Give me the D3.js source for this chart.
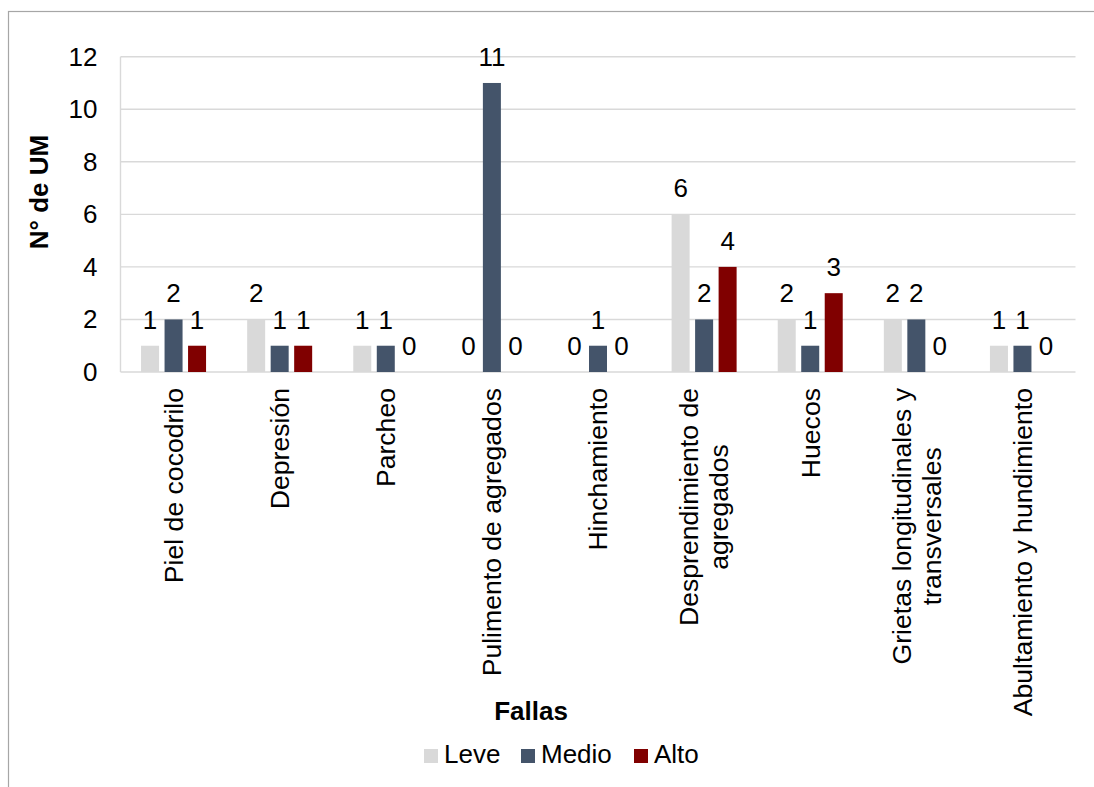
<!DOCTYPE html>
<html>
<head>
<meta charset="utf-8">
<script src="https://cdn.jsdelivr.net/npm/d3@7/dist/d3.min.js"></script>
<style>
  html, body { margin: 0; padding: 0; background: #ffffff; }
  svg { display: block; }
  text { font-family: "Liberation Sans", Arial, sans-serif; fill: #000; }
</style>
</head>
<body>
<svg id="chart" width="1094" height="787"></svg>
<script>
// Failure types (each entry may hold several lines)
const categories = [
  ["Piel de cocodrilo"],
  ["Depresión"],
  ["Parcheo"],
  ["Pulimento de agregados"],
  ["Hinchamiento"],
  ["Desprendimiento de", "agregados"],
  ["Huecos"],
  ["Grietas longitudinales y", "transversales"],
  ["Abultamiento y hundimiento"]
];
const series = ["Leve", "Medio", "Alto"];
const leve  = [1, 2, 1, 0, 0, 6, 2, 2, 1];
const medio = [2, 1, 1, 11, 1, 2, 1, 2, 1];
const alto  = [1, 1, 0, 0, 0, 4, 3, 0, 0];
const yTicks = [0, 2, 4, 6, 8, 10, 12];
const colors = ["#d9d9d9", "#44546a", "#800000"];

const values = [leve, medio, alto];
const catKeys = categories.map(c => c.join(" "));

const svg = d3.select("#chart");
const FONT = 26;
const CAT_FONT = 26.6;

// outer frame
svg.append("rect")
  .attr("x", 8.5).attr("y", 11.5)
  .attr("width", 1200).attr("height", 900)
  .attr("fill", "none").attr("stroke", "#a6a6a6").attr("stroke-width", 1.2);

const plot = { left: 120.5, right: 1075.5, top: 56.7, bottom: 372 };

const y = d3.scaleLinear().domain([0, 12]).range([plot.bottom, plot.top]);
const x0 = d3.scaleBand().domain(catKeys).range([plot.left, plot.right]).padding(0);
const groupW = 70.5;
const x1 = d3.scaleBand().domain(series).range([0, groupW])
  .paddingInner(0.234).paddingOuter(0.117);
const color = d3.scaleOrdinal().domain(series).range(colors);

// gridlines
svg.append("g").selectAll("line").data(yTicks).join("line")
  .attr("x1", plot.left).attr("x2", plot.right)
  .attr("y1", d => y(d)).attr("y2", d => y(d))
  .attr("stroke", "#d9d9d9").attr("stroke-width", 1.4);

// left axis line
svg.append("line")
  .attr("x1", plot.left).attr("x2", plot.left)
  .attr("y1", plot.top).attr("y2", plot.bottom)
  .attr("stroke", "#d9d9d9").attr("stroke-width", 1.4);

// y tick labels
const yAxis = d3.axisLeft(y).tickValues(yTicks).tickSize(0).tickPadding(23);
const yg = svg.append("g").attr("transform", `translate(${plot.left},0)`).call(yAxis);
yg.select(".domain").remove();
yg.selectAll("text")
  .attr("font-size", FONT)
  .style("font-family", "'Liberation Sans', Arial, sans-serif")
  .attr("fill", "#000");

// bars
const rows = catKeys.map((k, i) => ({ key: k, vals: series.map((s, j) => ({ s, v: values[j][i] })) }));
const groups = svg.append("g").selectAll("g").data(rows).join("g")
  .attr("transform", d => `translate(${x0(d.key) + (x0.bandwidth() - groupW) / 2},0)`);

groups.selectAll("rect").data(d => d.vals).join("rect")
  .attr("x", d => x1(d.s))
  .attr("width", x1.bandwidth())
  .attr("y", d => y(d.v))
  .attr("height", d => y(0) - y(d.v))
  .attr("fill", d => color(d.s));

// value labels
groups.selectAll("text").data(d => d.vals).join("text")
  .attr("x", d => x1(d.s) + x1.bandwidth() / 2)
  .attr("y", d => y(d.v) - 17)
  .attr("text-anchor", "middle")
  .attr("font-size", FONT)
  .text(d => d.v);

// category labels, rotated
const lineH = 30;
const labelTop = 388;
categories.forEach((lines, i) => {
  const cx = x0(catKeys[i]) + x0.bandwidth() / 2;
  const g = svg.append("g").attr("transform", `translate(${cx},${labelTop}) rotate(-90)`);
  const texts = lines.map((ln, k) => g.append("text")
    .attr("font-size", CAT_FONT)
    .attr("text-anchor", "middle")
    .attr("y", (k - (lines.length - 1) / 2) * lineH)
    .attr("dy", "0.35em")
    .text(ln));
  const maxW = d3.max(texts, t => t.node().getComputedTextLength());
  texts.forEach(t => t.attr("x", -maxW / 2));
});

// axis titles
svg.append("text")
  .attr("transform", "translate(48,192) rotate(-90)")
  .attr("text-anchor", "middle")
  .attr("font-size", FONT).attr("font-weight", "bold")
  .text("N° de UM");

svg.append("text")
  .attr("x", 531).attr("y", 720)
  .attr("text-anchor", "middle")
  .attr("font-size", FONT).attr("font-weight", "bold")
  .text("Fallas");

// legend
const legendX = [424, 521, 634];
const lg = svg.append("g").selectAll("g").data(series).join("g")
  .attr("transform", (d, i) => `translate(${legendX[i]},749)`);
lg.append("rect").attr("width", 14).attr("height", 14).attr("fill", d => color(d));
lg.append("text").attr("x", 20).attr("y", 14).attr("font-size", FONT).text(d => d);
</script>
</body>
</html>
